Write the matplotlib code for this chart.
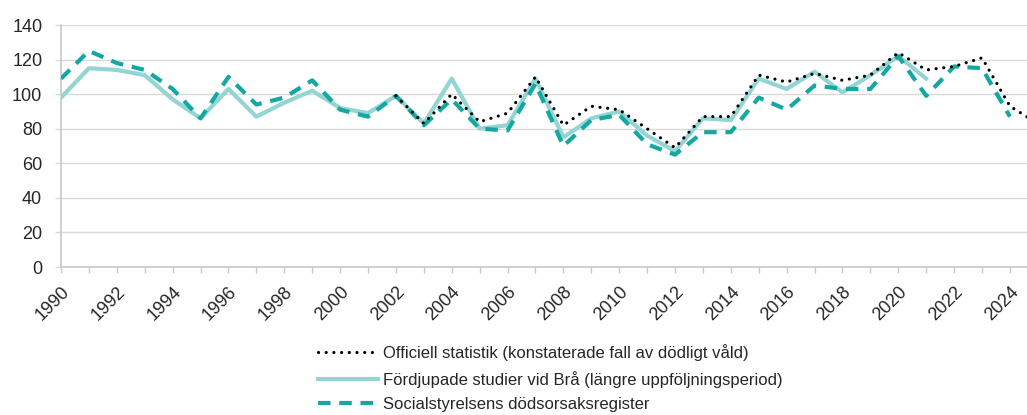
import matplotlib
matplotlib.use("Agg")
import matplotlib.pyplot as plt
import numpy as np

plt.rcParams["font.family"] = ["Liberation Sans", "DejaVu Sans"]

# Officiell statistik (konstaterade fall), från 2002
years_off = list(range(2002, 2026))
official = [99, 83, 100, 84, 89, 110, 82, 93, 91, 80, 69, 87, 87,
            111, 107, 112, 108, 111, 124, 114, 116, 121, 93, 83]

# Fördjupade studier vid Brå, 1990-2021
years_bra = list(range(1990, 2022))
bra = [98, 115, 114, 111, 97, 86, 103, 87, 95, 102, 92, 89, 99, 83, 109, 80,
       82, 109, 75, 86, 90, 76, 67, 86, 85, 109, 103, 113, 101, 111, 122, 109]

# Socialstyrelsens dödsorsaksregister, 1990-2024
years_sos = list(range(1990, 2025))
sos = [109, 125, 118, 114, 103, 86, 110, 94, 98, 108, 91, 87, 99, 82, 97, 80,
       79, 106, 70, 85, 88, 71, 65, 78, 78, 98, 91, 105, 103, 103, 122, 99,
       116, 115, 87]

labels = [
    "Officiell statistik (konstaterade fall av dödligt våld)",
    "Fördjupade studier vid Brå (längre uppföljningsperiod)",
    "Socialstyrelsens dödsorsaksregister",
]

text_col = "#262626"
grid_col = "#D9D9D9"
axis_col = "#C8C8C8"

fig = plt.figure(figsize=(10.27, 4.15), dpi=100)
ax = fig.add_axes([61 / 1027, 1 - 267 / 415, 1 - 61 / 1027, (267 - 25) / 415])

l2, = ax.plot(years_bra, bra, color="#92D5D3", lw=3.0, solid_joinstyle="round",
              zorder=3, label=labels[1])
l3, = ax.plot(years_sos, sos, color="#14A8A2", lw=3.0, linestyle=(0, (3.0, 2.1)),
              zorder=4, label=labels[2])
l1, = ax.plot(years_off, official, color="black", lw=2.3,
              linestyle=(0, (0.01, 2.4)), dash_capstyle="round",
              zorder=5, label=labels[0])

ax.set_xlim(1990, 1990 + (1027 - 61) / 27.91)
ax.set_ylim(0, 140)
ax.set_yticks(np.arange(0, 141, 20))
ax.set_xticks(range(1990, 2025))
ax.set_xticklabels([str(y) if y % 2 == 0 else "" for y in range(1990, 2025)],
                   rotation=45, ha="right", rotation_mode="anchor")

ax.grid(axis="y", color=grid_col, lw=1.0, zorder=0)
ax.set_axisbelow(True)
for s in ["top", "right"]:
    ax.spines[s].set_visible(False)
for s in ["left", "bottom"]:
    ax.spines[s].set_color(axis_col)
    ax.spines[s].set_linewidth(1.2)

ax.tick_params(axis="x", length=4.5, width=1.0, color=axis_col, labelsize=13,
               labelcolor=text_col, pad=7)
ax.tick_params(axis="y", length=4.5, width=1.0, color=grid_col, labelsize=13,
               labelcolor=text_col, pad=9)
ax.set_facecolor("white")

fig.legend(handles=[l1, l2, l3], labels=labels, loc="upper left",
           bbox_to_anchor=(318 / 1027, 1 - 344 / 415), frameon=False,
           fontsize=12, handlelength=3.6, handletextpad=0.3,
           labelspacing=0.58, borderaxespad=0, borderpad=0,
           labelcolor=text_col)

fig.savefig("out.png", dpi=100, facecolor="white")
